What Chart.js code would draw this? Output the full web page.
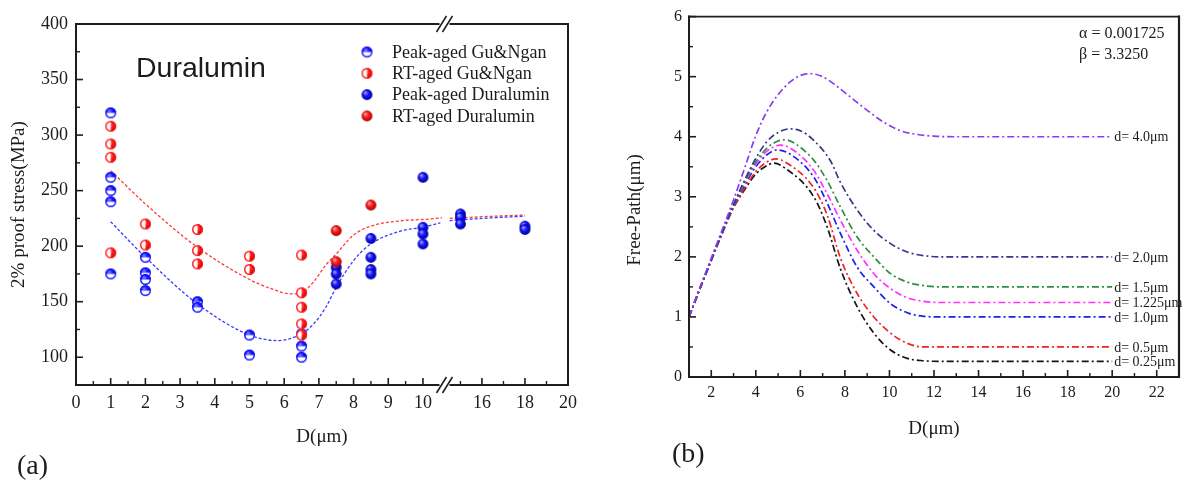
<!DOCTYPE html>
<html><head><meta charset="utf-8">
<script src="https://cdn.jsdelivr.net/npm/chart.js@4.4.1/dist/chart.umd.min.js"></script>
<style>
html,body{margin:0;padding:0;background:#fff;}
#wrap{position:relative;width:1192px;height:482px;overflow:hidden;background:#fff;}
canvas{position:absolute;top:0;}
#ca{left:0;} #cb{left:596px;}
</style></head><body>
<div id="wrap"><canvas id="ca" width="596" height="482"></canvas><canvas id="cb" width="596" height="482"></canvas></div>
<script>
// ---------------- Panel (a) data ----------------
const peakGuNganD   = [1,1,1,1,1, 2,2,2,2, 3.5,3.5, 5,5, 6.5,6.5,6.5];
const peakGuNganMPa = [320,262,250,240,175, 190,176,170,160, 150,145, 120,102, 121,110,100];
const rtGuNganD     = [1,1,1,1, 2,2, 3.5,3.5,3.5, 5,5, 6.5,6.5,6.5,6.5,6.5];
const rtGuNganMPa   = [308,292,280,194, 220,201, 215,196,184, 191,179, 192,158,145,130,120];
const peakDuraD     = [7.5,7.5,7.5, 8.5,8.5,8.5,8.5, 10,10,10,10, 15,15,15, 18,18];
const peakDuraMPa   = [181,175,166, 207,190,179,175, 262,217,211,202, 229,226,220, 218,215];
const rtDuraD       = [7.5,7.5,8.5];
const rtDuraMPa     = [214,186,237];
const rtFitD1   = [1,2,3.5,5,5.6,6.2,6.5,6.85,7.2,7.5,8,8.5,9.4,10,10.55];
const rtFitMPa1 = [268,238,199,170,162,157,158,168,183,193,210,218,223,224,225.5];
const rtFitD2   = [14.5,16,18];
const rtFitMPa2 = [225,226.5,228];
const peakFitD1   = [1,2,3.5,5,5.8,6.2,6.5,6.85,7.2,7.5,8,8.5,9.4,10,10.5];
const peakFitMPa1 = [222,190,148,120,115,117,121,130,145,163,187,202,214,217,221];
const peakFitD2   = [14.5,16,18];
const peakFitMPa2 = [223,225,227];
const xTickD      = [0,1,2,3,4,5,6,7,8,9,10,16,18,20];
const xTickLabels = ['0','1','2','3','4','5','6','7','8','9','10','16','18','20'];
const xMinorD     = [0.5,1.5,2.5,3.5,4.5,5.5,6.5,7.5,8.5,9.5,15,17,19];
const yTicksA     = [100,150,200,250,300,350,400];
const yMinorA     = [125,175,225,275,325,375];
const legendA     = ['Peak-aged Gu&Ngan','RT-aged Gu&Ngan','Peak-aged Duralumin','RT-aged Duralumin'];

// ---------------- Panel (b) data ----------------
const curveD40  = [[1,1],[1.5,1.5],[2,1.98],[2.5,2.46],[3,2.95],[3.5,3.48],[4,4.02],[4.5,4.42],[5,4.7],[5.5,4.9],[6,5.02],[6.45,5.05],[7,5.0],[7.5,4.88],[8.25,4.66],[9,4.44],[9.75,4.24],[10.5,4.1],[11.2,4.04],[12,4.01],[13,4.0],[20,4.0]];
const curveD20  = [[1,1],[1.5,1.48],[2,1.95],[2.5,2.42],[3,2.87],[3.5,3.28],[4,3.64],[4.5,3.92],[5,4.07],[5.5,4.13],[6,4.1],[6.6,3.94],[7.35,3.6],[7.8,3.24],[8.55,2.78],[9.3,2.44],[10.05,2.22],[10.8,2.08],[11.55,2.02],[12.3,2.0],[20,2.0]];
const curveD15  = [[1,1],[1.5,1.48],[2,1.95],[2.5,2.42],[3,2.86],[3.5,3.25],[4,3.58],[4.5,3.81],[5,3.93],[5.3,3.95],[5.7,3.9],[6.6,3.61],[7.2,3.27],[7.8,2.83],[8.55,2.33],[9.3,2.0],[10.05,1.72],[10.8,1.58],[11.55,1.52],[12.3,1.5],[20,1.5]];
const curveD1225= [[1,1],[1.5,1.48],[2,1.95],[2.5,2.42],[3,2.86],[3.5,3.23],[4,3.55],[4.5,3.76],[5.1,3.86],[5.6,3.8],[6.6,3.44],[7.2,3.05],[7.8,2.61],[8.55,2.11],[9.3,1.72],[10.05,1.47],[10.8,1.32],[11.55,1.26],[12.3,1.24],[20,1.24]];
const curveD10  = [[1,1],[1.5,1.48],[2,1.95],[2.5,2.41],[3,2.85],[3.5,3.2],[4,3.5],[4.5,3.7],[4.95,3.78],[5.5,3.72],[6.6,3.33],[7.2,2.9],[7.8,2.39],[8.55,1.83],[9.3,1.5],[10.05,1.22],[10.8,1.07],[11.55,1.01],[12.3,1.0],[20,1.0]];
const curveD05  = [[1,1],[1.5,1.48],[2,1.94],[2.5,2.4],[3,2.83],[3.5,3.15],[4,3.42],[4.5,3.58],[4.9,3.63],[5.4,3.56],[6.6,3.15],[7.2,2.7],[7.8,1.98],[8.55,1.39],[9.3,1.0],[10.05,0.73],[10.8,0.56],[11.55,0.5],[12.3,0.5],[20,0.5]];
const curveD025 = [[1,1],[1.5,1.48],[2,1.94],[2.5,2.4],[3,2.82],[3.5,3.12],[4,3.38],[4.5,3.52],[4.8,3.56],[5.3,3.48],[6.6,3.0],[7.2,2.5],[7.8,1.8],[8.55,1.17],[9.3,0.73],[10.05,0.45],[10.8,0.31],[11.55,0.27],[12.3,0.26],[20,0.26]];
const curveLabels = ['d= 4.0μm','d= 2.0μm','d= 1.5μm','d= 1.225μm','d= 1.0μm','d= 0.5μm','d= 0.25μm'];
const xTicksB = [2,4,6,8,10,12,14,16,18,20,22];
const xMinorB = [3,5,7,9,11,13,15,17,19,21];
const yTicksB = [0,1,2,3,4,5,6];
const yMinorB = [0.5,1.5,2.5,3.5,4.5,5.5];
const paramText = ['α = 0.001725','β = 3.3250'];

// ---------------- styles ----------------
const SERIF = '"Liberation Serif","Times New Roman",serif';
const SANS = '"Liberation Sans",Arial,sans-serif';
const TXT = '#1c1c1c';
const AXC = '#1e1e1e';
const curveColors = ['#8a3cf0','#36368f','#2f8f3f','#ff30ff','#1f1fee','#ee2424','#151515'];

// broken-axis mapping for panel (a)
function xPos(d){ return d < 12 ? d : 11.70 + (d - 16) * 0.62; }
function pts(xs, ys){ return xs.map((d,i)=>({x:xPos(d), y:ys[i]})); }

function makeMarker(kind, base, light, dark, r){
  const s = Math.ceil(r*2+4), c = document.createElement('canvas');
  c.width = c.height = s;
  const g = c.getContext('2d'), cx = s/2, cy = s/2;
  if (kind === 'full') {
    const gr = g.createRadialGradient(cx-r*0.35, cy-r*0.4, r*0.1, cx, cy, r);
    gr.addColorStop(0, light); gr.addColorStop(0.45, base); gr.addColorStop(1, dark);
    g.fillStyle = gr; g.beginPath(); g.arc(cx,cy,r,0,Math.PI*2); g.fill();
  } else {
    g.fillStyle = '#fff'; g.beginPath(); g.arc(cx,cy,r,0,Math.PI*2); g.fill();
    g.save(); g.beginPath(); g.arc(cx,cy,r,0,Math.PI*2); g.clip();
    const gr = g.createRadialGradient(cx-r*0.3, cy-r*0.4, r*0.1, cx, cy, r);
    gr.addColorStop(0, light); gr.addColorStop(0.5, base); gr.addColorStop(1, dark);
    g.fillStyle = gr;
    if (kind === 'top') g.fillRect(0,0,s,cy); else g.fillRect(cx,0,s,s);
    g.restore();
    g.strokeStyle = base; g.lineWidth = 1.4;
    g.beginPath(); g.arc(cx,cy,r-0.6,0,Math.PI*2); g.stroke();
  }
  return c;
}
const R = 5.4;
const mkPeakHalf = makeMarker('top','#1515ff','#7a7aff','#0000a8',R);
const mkRtHalf   = makeMarker('right','#ff1c1c','#ff8a8a','#b00000',R);
const mkPeakFull = makeMarker('full','#1515ff','#9a9aff','#00009a',R);
const mkRtFull   = makeMarker('full','#ff1c1c','#ffa0a0','#a80000',R);
const legendMarkers = [mkPeakHalf, mkRtHalf, mkPeakFull, mkRtFull];

function seg(ctx,x1,y1,x2,y2,w,c){ ctx.beginPath(); ctx.moveTo(x1,y1); ctx.lineTo(x2,y2); ctx.lineWidth=w; ctx.strokeStyle=c||AXC; ctx.stroke(); }

// ---------------- Panel (a) ----------------
const panelAPlugin = {
  id:'panelA',
  afterDraw(chart){
    const {ctx, chartArea:{left,right,top,bottom}, scales:{x,y}} = chart;
    ctx.save();
    ctx.lineCap = 'butt';
    const bp = x.getPixelForValue(10.62);
    seg(ctx,left,top-1,left,bottom+1,2);
    seg(ctx,right,top-1,right,bottom+1,2);
    [top,bottom].forEach(yy=>{
      seg(ctx,left,yy,bp-5,yy,2);
      seg(ctx,bp+5,yy,right+1,yy,2);
      seg(ctx,bp-8,yy+8,bp+2,yy-8,1.5);
      seg(ctx,bp-2,yy+8,bp+8,yy-8,1.5);
    });
    xTickD.forEach(d=>{ const p=x.getPixelForValue(xPos(d)); seg(ctx,p,bottom,p,bottom-7,1.6); });
    xMinorD.forEach(d=>{ const p=x.getPixelForValue(xPos(d)); seg(ctx,p,bottom,p,bottom-4,1.4); });
    yTicksA.forEach(v=>{ const p=y.getPixelForValue(v); seg(ctx,left,p,left+7,p,1.6); });
    yMinorA.forEach(v=>{ const p=y.getPixelForValue(v); seg(ctx,left,p,left+4,p,1.4); });
    // legend
    ctx.fillStyle = TXT; ctx.font = '18px '+SERIF; ctx.textBaseline='middle'; ctx.textAlign='left';
    legendA.forEach((t,i)=>{
      const ly = top + 28 + i*21.3, m = legendMarkers[i];
      ctx.drawImage(m, left+291-m.width/2, ly-m.height/2);
      ctx.fillText(t, left+316, ly+1);
    });
    // title text
    ctx.font = '28.5px '+SANS; ctx.textBaseline='alphabetic';
    ctx.fillText('Duralumin', 136, 77);
    ctx.font = '28px '+SERIF; ctx.textBaseline='middle';
    ctx.fillText('(a)', 17, 467);
    ctx.restore();
  }
};

const fitStyle = (c)=>({showLine:true, pointRadius:0, borderColor:c, borderWidth:1.3, borderDash:[3,2], cubicInterpolationMode:'monotone', fill:false});

new Chart(document.getElementById('ca'), {
  type:'scatter',
  data:{datasets:[
    Object.assign({label:'rtFitA', data:pts(rtFitD1,rtFitMPa1), order:9}, fitStyle('#ff3a3a')),
    Object.assign({label:'rtFitB', data:pts(rtFitD2,rtFitMPa2), order:9}, fitStyle('#ff3a3a')),
    Object.assign({label:'peakFitA', data:pts(peakFitD1,peakFitMPa1), order:8}, fitStyle('#3a3aff')),
    Object.assign({label:'peakFitB', data:pts(peakFitD2,peakFitMPa2), order:8}, fitStyle('#3a3aff')),
    {label:legendA[0], data:pts(peakGuNganD,peakGuNganMPa), pointStyle:mkPeakHalf, pointRadius:R, order:4},
    {label:legendA[1], data:pts(rtGuNganD,rtGuNganMPa), pointStyle:mkRtHalf, pointRadius:R, order:3},
    {label:legendA[2], data:pts(peakDuraD,peakDuraMPa), pointStyle:mkPeakFull, pointRadius:R, order:2},
    {label:legendA[3], data:pts(rtDuraD,rtDuraMPa), pointStyle:mkRtFull, pointRadius:R, order:1}
  ]},
  options:{
    responsive:false, animation:false, events:[],
    layout:{padding:{left:0,top:24,right:28,bottom:0}},
    plugins:{legend:{display:false}, tooltip:{enabled:false}},
    scales:{
      x:{type:'linear', min:0, max:xPos(20),
        afterBuildTicks:s=>{ s.ticks = xTickD.map(d=>({value:xPos(d)})); },
        afterFit:s=>{ s.height = 97; },
        ticks:{autoSkip:false, maxRotation:0, padding:7, color:TXT, font:{family:SERIF,size:18}, callback:(v,i)=>xTickLabels[i]},
        grid:{display:false, drawTicks:false, tickLength:0}, border:{display:false},
        title:{display:true, text:'D(μm)', color:TXT, font:{family:SERIF,size:19}, padding:{top:0,bottom:34}}
      },
      y:{type:'linear', min:75, max:400,
        afterBuildTicks:s=>{ s.ticks = yTicksA.map(v=>({value:v})); },
        afterFit:s=>{ s.width = 76; },
        ticks:{autoSkip:false, padding:8, color:TXT, font:{family:SERIF,size:18}},
        grid:{display:false, drawTicks:false, tickLength:0}, border:{display:false},
        title:{display:true, text:'2% proof stress(MPa)', color:TXT, font:{family:SERIF,size:19}, padding:{top:8,bottom:0}}
      }
    }
  },
  plugins:[panelAPlugin]
});

// ---------------- Panel (b) ----------------
const curves = [curveD40,curveD20,curveD15,curveD1225,curveD10,curveD05,curveD025];
const panelBPlugin = {
  id:'panelB',
  afterDraw(chart){
    const {ctx, chartArea:{left,right,top,bottom}, scales:{x,y}} = chart;
    ctx.save();
    seg(ctx,left,top-1,left,bottom+1,2);
    seg(ctx,left-1,bottom,right+1,bottom,2);
    seg(ctx,left-1,top,right+1,top,1.8);
    seg(ctx,right,top-1,right,bottom+1,2.2);
    xTicksB.forEach(v=>{ const p=x.getPixelForValue(v); seg(ctx,p,bottom,p,bottom-7,1.6); });
    xMinorB.forEach(v=>{ const p=x.getPixelForValue(v); seg(ctx,p,bottom,p,bottom-4,1.4); });
    yTicksB.forEach(v=>{ const p=y.getPixelForValue(v); seg(ctx,left,p,left+7,p,1.6); });
    yMinorB.forEach(v=>{ const p=y.getPixelForValue(v); seg(ctx,left,p,left+4,p,1.4); });
    ctx.fillStyle = TXT; ctx.textAlign='left'; ctx.textBaseline='middle';
    ctx.font = '14px '+SERIF;
    curves.forEach((c,i)=>{
      const last = c[c.length-1];
      ctx.fillText(curveLabels[i], x.getPixelForValue(last[0])+2, y.getPixelForValue(last[1])+1);
    });
    ctx.font = '16px '+SERIF;
    ctx.fillText(paramText[0], 483, 34);
    ctx.fillText(paramText[1], 483, 55);
    // y title
    ctx.save(); ctx.translate(39, 210); ctx.rotate(-Math.PI/2);
    ctx.textAlign='center'; ctx.font='19px '+SERIF; ctx.fillText('Free-Path(μm)',0,0);
    ctx.restore();
    ctx.font = '28px '+SERIF; ctx.textAlign='left';
    ctx.fillText('(b)', 76, 455);
    ctx.restore();
  }
};

new Chart(document.getElementById('cb'), {
  type:'scatter',
  data:{datasets: curves.map((c,i)=>({
    label:curveLabels[i], data:c.map(p=>({x:p[0], y:p[1]})),
    showLine:true, pointRadius:0, borderColor:curveColors[i], borderWidth:1.7,
    borderDash:[7,3,2,3], cubicInterpolationMode:'monotone', fill:false
  }))},
  options:{
    responsive:false, animation:false, events:[],
    layout:{padding:{left:0,top:16,right:13,bottom:0}},
    plugins:{legend:{display:false}, tooltip:{enabled:false}},
    scales:{
      x:{type:'linear', min:1, max:23,
        afterBuildTicks:s=>{ s.ticks = xTicksB.map(v=>({value:v})); },
        afterFit:s=>{ s.height = 105; },
        ticks:{autoSkip:false, maxRotation:0, padding:6, color:TXT, font:{family:SERIF,size:16}},
        grid:{display:false, drawTicks:false, tickLength:0}, border:{display:false},
        title:{display:true, text:'D(μm)', color:TXT, font:{family:SERIF,size:19}, padding:{top:0,bottom:42}}
      },
      y:{type:'linear', min:0, max:6,
        afterBuildTicks:s=>{ s.ticks = yTicksB.map(v=>({value:v})); },
        afterFit:s=>{ s.width = 93; },
        ticks:{autoSkip:false, padding:7, color:TXT, font:{family:SERIF,size:16}},
        grid:{display:false, drawTicks:false, tickLength:0}, border:{display:false}
      }
    }
  },
  plugins:[panelBPlugin]
});
</script>
</body></html>
